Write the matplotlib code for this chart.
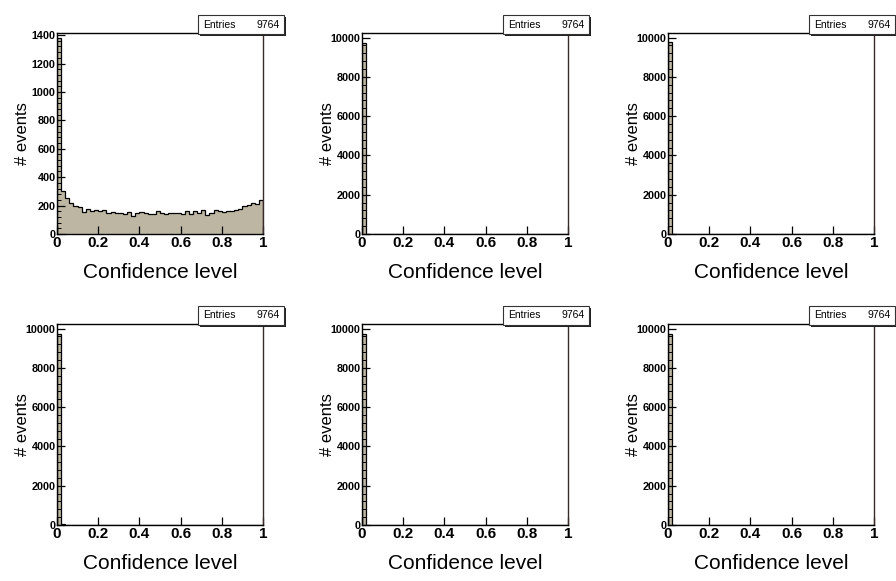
import matplotlib
matplotlib.use('Agg')
import matplotlib.pyplot as plt
from matplotlib.patches import Rectangle
from matplotlib.ticker import MultipleLocator, AutoMinorLocator
import numpy as np

plt.rcParams['font.family'] = ['Liberation Sans', 'DejaVu Sans']

# 50 bins of width 0.02 on [0, 1]
edges = np.linspace(0, 1, 51)
entries = 9764

# bin contents (row by row)
cl_a = [1380, 305, 250, 215, 200, 190, 155, 175, 165, 170,
        160, 170, 150, 155, 145, 150, 140, 155, 125, 150,
        155, 145, 140, 140, 165, 145, 140, 145, 145, 150,
        140, 160, 140, 165, 145, 170, 135, 150, 170, 160,
        155, 165, 160, 170, 175, 200, 205, 215, 210, 240]
cl_b = [9745, 5, 2, 1, 0, 0, 1, 0, 0, 0,
        0, 0, 0, 0, 1, 0, 1, 0, 0, 1,
        0, 0, 0, 0, 0, 0, 0, 0, 1, 0,
        0, 0, 0, 0, 0, 0, 0, 0, 0, 0,
        0, 0, 0, 0, 0, 0, 1, 0, 0, 5]
cl_c = [9750, 6, 2, 1, 0, 0, 0, 0, 1, 0,
        0, 0, 0, 0, 0, 0, 0, 0, 0, 0,
        1, 0, 0, 0, 0, 0, 0, 0, 0, 0,
        0, 0, 0, 0, 0, 0, 0, 0, 0, 0,
        0, 0, 0, 0, 0, 0, 0, 0, 0, 3]
cl_d = [9700, 30, 15, 6, 4, 2, 1, 0, 0, 0,
        0, 1, 0, 0, 0, 0, 0, 0, 0, 0,
        0, 0, 0, 0, 0, 0, 0, 0, 0, 0,
        0, 0, 0, 0, 0, 0, 0, 0, 0, 0,
        0, 0, 0, 0, 0, 0, 0, 0, 0, 5]
cl_e = [9700, 25, 10, 4, 3, 10, 2, 1, 0, 1,
        0, 0, 0, 0, 5, 8, 12, 6, 4, 1,
        0, 0, 0, 0, 0, 0, 0, 0, 0, 0,
        0, 0, 0, 0, 0, 0, 0, 0, 0, 0,
        0, 0, 0, 0, 0, 0, 0, 0, 0, 3]
cl_f = [9730, 20, 6, 2, 1, 0, 0, 0, 0, 0,
        0, 0, 0, 0, 0, 0, 0, 0, 0, 0,
        0, 0, 0, 0, 0, 0, 0, 0, 0, 0,
        0, 0, 0, 0, 0, 0, 0, 0, 0, 0,
        0, 0, 0, 0, 0, 0, 0, 0, 0, 5]

panels = [cl_a, cl_b, cl_c, cl_d, cl_e, cl_f]
y_top = [1415, 10230, 10230, 10230, 10230, 10230]
y_step = [200, 2000, 2000, 2000, 2000, 2000]

fill_col = '#bcb6a2'
W, H = 896, 581

fig = plt.figure(figsize=(W / 100, H / 100), dpi=100)

lefts = [57, 362, 668]
tops = [33, 324]
aw, ah = 206, 201

for i, vals in enumerate(panels):
    r, c = divmod(i, 3)
    x0 = lefts[c]
    y0 = tops[r]
    ax = fig.add_axes([x0 / W, 1 - (y0 + ah) / H, aw / W, ah / H])
    ax.stairs(vals, edges, fill=True, color=fill_col, zorder=1)
    ax.stairs(vals, edges, color='black', lw=0.9, zorder=2)
    ax.set_xlim(0, 1)
    ax.set_ylim(0, y_top[i])

    ax.xaxis.set_major_locator(MultipleLocator(0.2))
    ax.xaxis.set_major_formatter(plt.FuncFormatter(lambda v, p: '%g' % round(v, 1)))
    ax.yaxis.set_major_locator(MultipleLocator(y_step[i]))
    ax.yaxis.set_minor_locator(AutoMinorLocator(5))
    ax.tick_params(axis='x', which='major', direction='in', length=6, width=0.9,
                   labelsize=11, pad=1.5)
    ax.tick_params(axis='x', which='minor', length=0)
    ax.tick_params(axis='y', which='major', direction='in', length=6, width=0.9,
                   labelsize=7.8, pad=1)
    ax.tick_params(axis='y', which='minor', direction='in', length=3, width=0.7)
    for lab in ax.get_xticklabels() + ax.get_yticklabels():
        lab.set_fontweight('bold')
    for s in ax.spines.values():
        s.set_linewidth(1.0)
        s.set_zorder(3)
    ax.spines['right'].set_color('#3a2a2a')

    ax.set_xlabel('Confidence level', fontsize=15, va='top')
    ax.xaxis.set_label_coords(0.5, -29 / ah)
    ax.set_ylabel('# events', fontsize=12)
    ax.yaxis.set_label_coords(-27 / aw, 0.5)

    # stats box in the top right corner
    bx0 = (x0 + aw - 65) / W
    bx1 = min((x0 + aw + 21) / W, 1.0)
    by_top = 1 - (y0 - 18) / H
    by_bot = 1 - (y0 + 1) / H
    shadow = Rectangle((bx0 + 2 / W, by_bot - 2 / H), bx1 - bx0, by_top - by_bot,
                       transform=fig.transFigure, facecolor='#222222',
                       edgecolor='none', zorder=4)
    box = Rectangle((bx0, by_bot), bx1 - bx0, by_top - by_bot,
                    transform=fig.transFigure, facecolor='white',
                    edgecolor='#333333', lw=0.8, zorder=5)
    fig.add_artist(shadow)
    fig.add_artist(box)
    ym = (by_top + by_bot) / 2
    fig.text(bx0 + 5 / W, ym, 'Entries', fontsize=7.5, va='center', ha='left', zorder=6)
    fig.text((x0 + aw + 17) / W, ym, str(entries), fontsize=7.5, va='center',
             ha='right', zorder=6)

fig.savefig('out.png', dpi=100)
